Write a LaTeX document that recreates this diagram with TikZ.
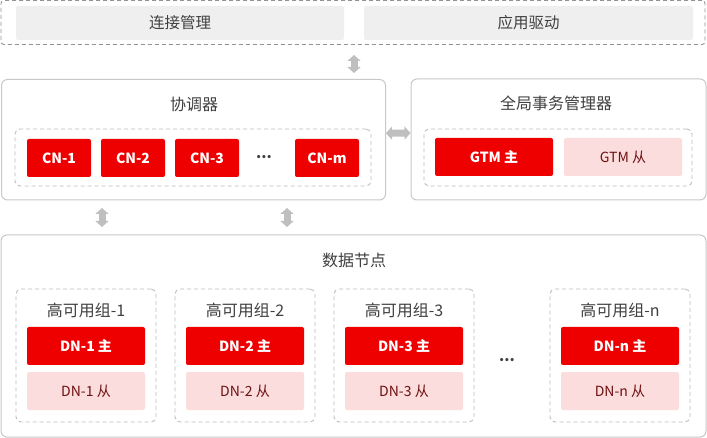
\documentclass[tikz,border=0pt]{standalone}
\usepackage{fontspec}
\setmainfont{Noto Sans CJK SC}
\usetikzlibrary{arrows.meta}
\definecolor{txt}{HTML}{404040}
\definecolor{redbox}{HTML}{EE0000}
\definecolor{pinkbox}{HTML}{FCDDDD}
\definecolor{pinktxt}{HTML}{6E1010}
\definecolor{graybox}{HTML}{EFEFEF}
\definecolor{frame}{HTML}{C8C8C8}
\definecolor{dashc}{HTML}{BDBDBD}
\definecolor{arrowc}{HTML}{BFBFBF}
\tikzset{
  outerbox/.style={draw=frame, line width=1pt, rounded corners=6pt, fill=white},
  dashbox/.style={draw=dashc, line width=0.9pt, dash pattern=on 4pt off 3pt, rounded corners=5pt},
  topdash/.style={draw=gray!85, line width=0.9pt, dash pattern=on 4pt off 3pt, rounded corners=3pt},
  graycell/.style={fill=graybox, rounded corners=2pt, font=\fontsize{15.5}{17}\selectfont, text=txt},
  redcell/.style={fill=redbox, rounded corners=2pt, minimum height=38pt, font=\fontsize{14}{16}\selectfont\bfseries, text=white},
  pinkcell/.style={fill=pinkbox, rounded corners=2pt, minimum height=38pt, font=\fontsize{14}{16}\selectfont, text=pinktxt},
  ttl/.style={font=\fontsize{16}{18}\selectfont, text=txt},
  dotsl/.style={font=\fontsize{15}{17}\selectfont\bfseries, text=txt},
  dblarrow/.style={draw=arrowc, line width=7pt, {Triangle[length=6pt 0, width=13pt 0]}-{Triangle[length=6pt 0, width=13pt 0]}}
}
\begin{document}
\begin{tikzpicture}[x=1pt,y=-1pt]
\useasboundingbox (0,0) rectangle (707,438);
% top layer
\node[topdash, minimum width=704pt, minimum height=44pt, inner sep=0pt] (top) at (353,22.5) {};
\node[graycell, minimum width=328pt, minimum height=34pt] (conn) at (180,23) {连接管理};
\node[graycell, minimum width=329pt, minimum height=34pt] (app) at (528.5,23) {应用驱动};
% coordinator
\node[outerbox, minimum width=384pt, minimum height=120.5pt, inner sep=0pt] (coord) at (193.5,139.75) {};
\node[ttl] (coordt) at (194,104) {协调器};
\node[dashbox, minimum width=356pt, minimum height=57pt, inner sep=0pt] (cnbox) at (193,157.5) {};
\node[redcell, minimum width=64pt] (cn1) at (59,158) {CN-1};
\node[redcell, minimum width=64pt] (cn2) at (133,158) {CN-2};
\node[redcell, minimum width=64pt] (cn3) at (207,158) {CN-3};
\node[dotsl] (cndots) at (264,157) {...};
\node[redcell, minimum width=64pt] (cnm) at (327,158) {CN-m};
% GTM
\node[outerbox, minimum width=295pt, minimum height=121pt, inner sep=0pt] (gtm) at (558.5,139.5) {};
\node[ttl] (gtmt) at (556,103) {全局事务管理器};
\node[dashbox, minimum width=268pt, minimum height=57pt, inner sep=0pt] (gtmbox) at (558,157.5) {};
\node[redcell, minimum width=118pt] (gtmm) at (494,157) {GTM 主};
\node[pinkcell, minimum width=118pt] (gtms) at (623,157) {GTM 从};
% data nodes
\node[outerbox, minimum width=705pt, minimum height=202pt, inner sep=0pt] (data) at (353.5,336) {};
\node[ttl] (datat) at (354,260) {数据节点};
\foreach \cx/\k/\n in {86/1/1, 245/2/2, 404/3/3, 620/n/n}{
  \node[dashbox, minimum width=140pt, minimum height=133pt, inner sep=0pt] (g\k) at (\cx,355.5) {};
  \node[ttl] (gt\k) at (\cx,310) {高可用组-\n};
  \node[redcell, minimum width=118pt] (dm\k) at (\cx,346) {DN-\n\ 主};
  \node[pinkcell, minimum width=118pt] (ds\k) at (\cx,391) {DN-\n\ 从};
}
\node[dotsl] (dndots) at (507,360) {...};
% connectors
\coordinate (a1s) at (354,55);
\coordinate (a1e) at (354,73);
\draw[dblarrow] (a1s) -- (a1e);
\coordinate (a2s) at (102,208);
\coordinate (a2e) at (102,227);
\draw[dblarrow] (a2s) -- (a2e);
\coordinate (a3s) at (287,208);
\coordinate (a3e) at (287,227);
\draw[dblarrow] (a3s) -- (a3e);
\draw[dblarrow] ([yshift=6.5pt]coord.east) -- ([yshift=6.5pt]gtm.west);
\end{tikzpicture}
\end{document}
